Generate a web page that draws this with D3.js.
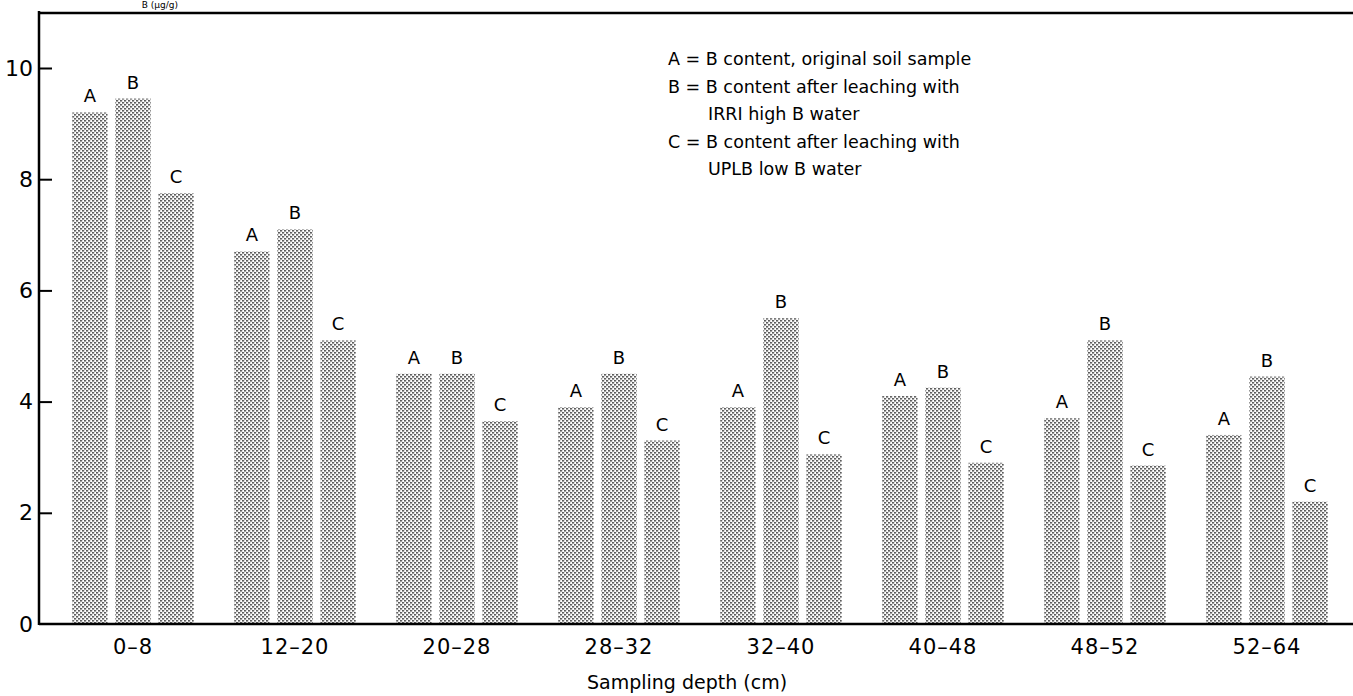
<!DOCTYPE html>
<html>
<head>
<meta charset="utf-8">
<script src="https://cdn.jsdelivr.net/npm/d3@7"></script>
<style>
  body { margin: 0; background: #fff; }
  svg { display: block; font-family: "DejaVu Sans", sans-serif; }
</style>
</head>
<body>
<svg id="chart"></svg>
<script>
// sampling depths (cm)
let categories = ['0–8', '12–20', '20–28', '28–32', '32–40', '40–48', '48–52', '52–64'];
let seriesKeys = ['A', 'B', 'C'];
// boron content, µg/g
let seriesA = [9.2, 6.7, 4.5, 3.9, 3.9, 4.1, 3.7, 3.4];
let seriesB = [9.45, 7.1, 4.5, 4.5, 5.5, 4.25, 5.1, 4.45];
let seriesC = [7.75, 5.1, 3.65, 3.3, 3.05, 2.9, 2.85, 2.2];
let yTicks = [0, 2, 4, 6, 8, 10];
let legendLines = [
	['A', '= B content, original soil sample'],
	['B', '= B content after leaching with'],
	['', 'IRRI high B water'],
	['C', '= B content after leaching with'],
	['', 'UPLB low B water']
];

let width = 1353, height = 696;
let axisX = 39, topY = 11, baseY = 624;

let svg = d3.select('#chart')
	.attr('width', width)
	.attr('height', height);

// halftone dot fill
let pat = svg.append('defs').append('pattern')
	.attr('id', 'dots')
	.attr('patternUnits', 'userSpaceOnUse')
	.attr('width', 4)
	.attr('height', 4);
pat.append('rect').attr('width', 4).attr('height', 4).attr('fill', '#fff');
pat.append('rect').attr('x', 0).attr('y', 0).attr('width', 1.6).attr('height', 1.6).attr('fill', '#222');
pat.append('rect').attr('x', 2).attr('y', 2).attr('width', 1.6).attr('height', 1.6).attr('fill', '#222');

let xScale = d3.scaleBand()
	.domain(categories)
	.range([52, 1348])
	.paddingInner(0.25)
	.paddingOuter(0.125);

let subScale = d3.scaleBand()
	.domain(seriesKeys)
	.range([0, xScale.bandwidth()])
	.paddingInner(0.18);

let yScale = d3.scaleLinear()
	.domain([0, 10])
	.range([baseY, 68]);

let data = categories.map((c, i) => ({
	cat: c,
	vals: [
		{key: 'A', value: seriesA[i]},
		{key: 'B', value: seriesB[i]},
		{key: 'C', value: seriesC[i]}
	]
}));

// small heading above the frame (mostly cropped in the scan)
svg.append('text')
	.attr('x', 178)
	.attr('y', 8)
	.attr('text-anchor', 'end')
	.style('font-size', '9px')
	.text('B (µg/g)');

// bars
let groups = svg.selectAll('g.group')
	.data(data)
	.enter()
	.append('g')
	.attr('class', 'group')
	.attr('transform', d => `translate(${xScale(d.cat)},0)`);

groups.selectAll('rect')
	.data(d => d.vals)
	.enter()
	.append('rect')
	.attr('x', d => subScale(d.key))
	.attr('y', d => yScale(d.value))
	.attr('width', subScale.bandwidth())
	.attr('height', d => baseY - yScale(d.value))
	.attr('fill', 'url(#dots)');

groups.selectAll('text')
	.data(d => d.vals)
	.enter()
	.append('text')
	.attr('x', d => subScale(d.key) + subScale.bandwidth() / 2)
	.attr('y', d => yScale(d.value) - 10)
	.attr('text-anchor', 'middle')
	.style('font-size', '18px')
	.text(d => d.key);

// axes
let yAxis = d3.axisLeft(yScale)
	.tickValues(yTicks)
	.tickSize(-13)
	.tickPadding(6)
	.tickFormat(d3.format('d'));

let yAxisGroup = svg.append('g')
	.attr('transform', `translate(${axisX},0)`)
	.call(yAxis);
yAxisGroup.select('.domain').remove();
yAxisGroup.selectAll('line').attr('stroke', '#000').attr('stroke-width', 2);
yAxisGroup.selectAll('text')
	.style('font-size', '22px')
	.style('font-family', '"DejaVu Sans", sans-serif');
yAxisGroup.selectAll('.tick').filter(d => d === 0).select('line').remove();

let xAxis = d3.axisBottom(xScale).tickSize(0).tickPadding(15);
let xAxisGroup = svg.append('g')
	.attr('transform', `translate(0,${baseY})`)
	.call(xAxis);
xAxisGroup.select('.domain').remove();
xAxisGroup.selectAll('text')
	.style('font-size', '21px')
	.style('letter-spacing', '1px')
	.style('font-family', '"DejaVu Sans", sans-serif');

// frame: left axis, baseline, top border
svg.append('line')
	.attr('x1', axisX).attr('x2', axisX)
	.attr('y1', topY).attr('y2', baseY + 1)
	.attr('stroke', '#000').attr('stroke-width', 2.5);
svg.append('line')
	.attr('x1', axisX).attr('x2', width)
	.attr('y1', baseY).attr('y2', baseY)
	.attr('stroke', '#000').attr('stroke-width', 2.5);
svg.append('line')
	.attr('x1', axisX).attr('x2', width)
	.attr('y1', topY + 2).attr('y2', topY + 2)
	.attr('stroke', '#000').attr('stroke-width', 2.5);

// x axis title
svg.append('text')
	.attr('x', 687)
	.attr('y', 689)
	.attr('text-anchor', 'middle')
	.style('font-size', '19px')
	.text('Sampling depth (cm)');

// legend
let legend = svg.append('g').attr('transform', 'translate(668,65)');
legend.selectAll('text')
	.data(legendLines)
	.enter()
	.append('text')
	.attr('x', d => d[0] ? 0 : 40)
	.attr('y', (d, i) => i * 27.5)
	.style('font-size', '17.5px')
	.text(d => d[0] ? d[0] + ' ' + d[1] : d[1]);
</script>
</body>
</html>
